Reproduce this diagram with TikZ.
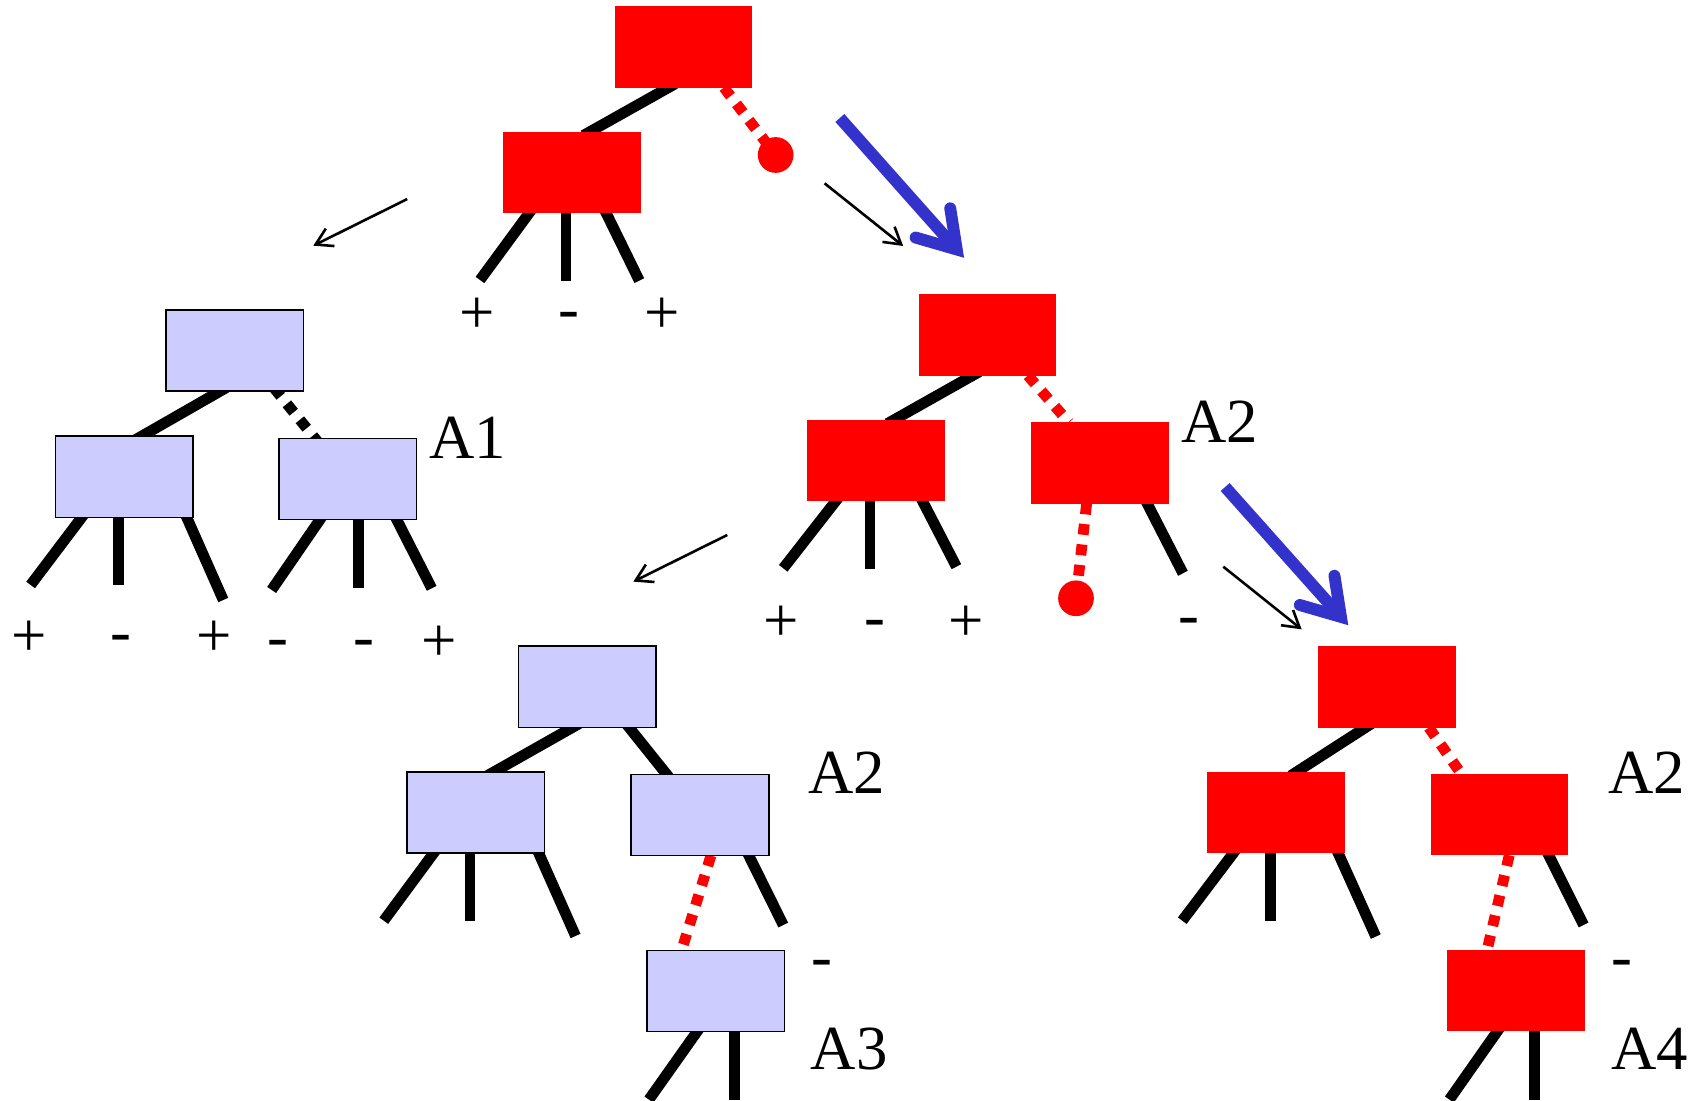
\documentclass[tikz,border=0pt]{standalone}
\usepackage{fontspec}
\setmainfont{Liberation Serif}
\usetikzlibrary{arrows.meta}
\definecolor{lav}{HTML}{CCCCFF}
\definecolor{arrowblue}{HTML}{3333CC}
\pgfdeclarelayer{background}
\pgfsetlayers{background,main}
\begin{document}
\begin{tikzpicture}[x=1pt,y=-1pt,
  box/.style={rectangle, minimum width=127pt, minimum height=75pt, inner sep=0pt, outer sep=0pt},
  rbox/.style={box, fill=red},
  lbox/.style={box, fill=lav, draw=black, line width=1.5pt},
  dotnode/.style={circle, fill=red, minimum size=33pt, inner sep=0pt, outer sep=0pt},
  edge/.style={line width=10pt, shorten <=-7pt, shorten >=-7pt},
  leg/.style={line width=10pt, shorten <=-7pt},
  rdots/.style={red, line width=10pt, dash pattern=on 10pt off 9pt},
  kdots/.style={black, line width=10pt, dash pattern=on 10pt off 9pt, shorten <=-4pt, shorten >=-4pt},
  thinarrow/.style={line width=2.4pt, -{Straight Barb[length=15pt,width=18pt,line width=2.4pt]}},
  bigarrow/.style={arrowblue, line width=11pt},
  bighead/.style={arrowblue, line width=11pt, line cap=round, line join=miter},
  lab/.style={font=\fontsize{58}{60}\selectfont, inner sep=0pt, anchor=base}
]
\useasboundingbox (0,0) rectangle (1568,1017);

% ---------- boxes ----------
\node[rbox] (t1r) at (631.5,43.4) {};
\node[rbox] (t1l) at (528.7,159.2) {};
\node[dotnode] (c1) at (716.7,143.2) {};

\node[lbox] (a1r) at (217,324) {};
\node[lbox] (a1l) at (114.7,440.5) {};
\node[lbox] (a1rr) at (321.5,442.5) {};

\node[rbox] (t2r) at (912.2,309.5) {};
\node[rbox] (t2l) at (809.5,425.5) {};
\node[rbox] (t2rr) at (1016.3,427.8) {};
\node[dotnode] (c2) at (994.2,552.8) {};

\node[lbox] (a2r) at (542.7,634.6) {};
\node[lbox] (a2l) at (439.7,750.7) {};
\node[lbox] (a2rr) at (646.8,753) {};
\node[lbox] (a3) at (661.3,915.6) {};

\node[rbox] (t3r) at (1281.6,634.7) {};
\node[rbox] (t3l) at (1179,750.5) {};
\node[rbox] (t3rr) at (1385.7,752.8) {};
\node[rbox] (a4) at (1400.6,915.5) {};

% ---------- labels ----------
\node[lab] (p1) at (441,308) {+};
\node[lab] (m1) at (526,304) {-};
\node[lab] (p2) at (612,308) {+};

\node[lab] (p3) at (27,607) {+};
\node[lab] (m2) at (112,603) {-};
\node[lab] (p4) at (198,607) {+};
\node[lab] (m3) at (257,607.5) {-};
\node[lab] (m4) at (336,607.5) {-};
\node[lab] (p5) at (406,611.5) {+};
\node[lab] (lA1) at (432,423.5) {A1};

\node[lab] (p6) at (722,593) {+};
\node[lab] (m5) at (808,589) {-};
\node[lab] (p7) at (893,593) {+};
\node[lab] (m6) at (1099,587) {-};
\node[lab] (lA2a) at (1127,408.7) {A2};

\node[lab] (lA2b) at (782.5,733) {A2};
\node[lab] (m7) at (759.3,903) {-};
\node[lab] (lA3) at (784.5,988.6) {A3};

\node[lab] (lA2c) at (1521.7,733) {A2};
\node[lab] (m8) at (1499,903) {-};
\node[lab] (lA4) at (1524,988.6) {A4};

% ---------- arrow end points ----------
\coordinate (ta1s) at (376.3,183.9);
\coordinate (ta1e) at (289.5,227);
\coordinate (ta2s) at (672,494.3);
\coordinate (ta2e) at (585.2,537.4);
\coordinate (ta3s) at (761.9,169.4);
\coordinate (ta3e) at (834.5,227.3);
\coordinate (ta4s) at (1130.3,523.6);
\coordinate (ta4e) at (1202.7,581.5);

\coordinate (ba1s) at (776,109);
\coordinate (ba1v) at (884,230.5);
\coordinate (ba1l) at (846,219.5);
\coordinate (ba1r) at (878,192.5);
\coordinate (ba2s) at (1132,450);
\coordinate (ba2v) at (1239,570);
\coordinate (ba2l) at (1201,559);
\coordinate (ba2r) at (1233,532);

\begin{pgfonlayer}{background}
% tree 1
\draw[edge] (617.7,0 |- t1r.south) -- (545.1,0 |- t1l.north);
\draw[rdots] (668.9,0 |- t1r.south) -- (c1.center);
\draw[leg] (489,0 |- t1l.south) -- (443.5,258.7);
\draw[leg] (523,0 |- t1l.south) -- (523,259.3);
\draw[leg] (560,0 |- t1l.south) -- (590.7,259.3);

% tree A1
\draw[edge] (203.3,0 |- a1r.south) -- (130.9,0 |- a1l.north);
\draw[kdots] (255.6,0 |- a1r.south) -- (291,0 |- a1rr.north);
\draw[leg] (75.5,0 |- a1l.south) -- (28.3,540.5);
\draw[leg] (109.3,0 |- a1l.south) -- (109.3,540.5);
\draw[leg] (172.5,0 |- a1l.south) -- (206.3,554.4);
\draw[leg] (295.7,0 |- a1rr.south) -- (251,545.1);
\draw[leg] (331,0 |- a1rr.south) -- (331,543.6);
\draw[leg] (366.5,0 |- a1rr.south) -- (398.9,543.6);

% tree 2
\draw[edge] (898.6,0 |- t2r.south) -- (825.9,0 |- t2l.north);
\draw[rdots] (949.7,0 |- t2r.south) -- (987.7,0 |- t2rr.north);
\draw[leg] (772.2,0 |- t2l.south) -- (723.7,525.1);
\draw[leg] (803.8,0 |- t2l.south) -- (803.8,525.4);
\draw[leg] (852.4,0 |- t2l.south) -- (883.7,523.6);
\draw[rdots] (1004,0 |- t2rr.south) -- (c2.center);
\draw[leg] (1060,0 |- t2rr.south) -- (1093,529.7);

% tree A2 / A3
\draw[edge] (529,0 |- a2r.south) -- (456.4,0 |- a2l.north);
\draw[edge] (581.2,0 |- a2r.south) -- (616,0 |- a2rr.north);
\draw[leg] (400.7,0 |- a2l.south) -- (354.6,850.7);
\draw[leg] (434.2,0 |- a2l.south) -- (434.2,850.7);
\draw[leg] (497.7,0 |- a2l.south) -- (531.8,864.8);
\draw[rdots] (656.9,0 |- a2rr.south) -- (629.8,0 |- a3.north);
\draw[leg] (691.9,0 |- a2rr.south) -- (723.7,854.7);
\draw[leg] (644.1,0 |- a3.south) -- (599.6,1016);
\draw[leg] (678.5,0 |- a3.south) -- (678.5,1016);

% right tree / A4
\draw[edge] (1261.7,0 |- t3r.south) -- (1198.4,0 |- t3l.north);
\draw[rdots] (1320.2,0 |- t3r.south) -- (1350.3,0 |- t3rr.north);
\draw[leg] (1139.8,0 |- t3l.south) -- (1092.4,850.7);
\draw[leg] (1173.7,0 |- t3l.south) -- (1173.7,850.7);
\draw[leg] (1236.3,0 |- t3l.south) -- (1271.2,865.4);
\draw[rdots] (1394.5,0 |- t3rr.south) -- (1374,0 |- a4.north);
\draw[leg] (1431,0 |- t3rr.south) -- (1463.2,854.7);
\draw[leg] (1383.4,0 |- a4.south) -- (1339.2,1016);
\draw[leg] (1417.6,0 |- a4.south) -- (1417.6,1016);
\end{pgfonlayer}

% ---------- thin arrows ----------
\draw[thinarrow] (ta1s) -- (ta1e);
\draw[thinarrow] (ta2s) -- (ta2e);
\draw[thinarrow] (ta3s) -- (ta3e);
\draw[thinarrow] (ta4s) -- (ta4e);

% ---------- blue arrows ----------
\draw[bigarrow] (ba1s) -- (ba1v);
\draw[bighead] (ba1l) -- (ba1v) -- (ba1r);
\draw[bigarrow] (ba2s) -- (ba2v);
\draw[bighead] (ba2l) -- (ba2v) -- (ba2r);
\end{tikzpicture}
\end{document}
